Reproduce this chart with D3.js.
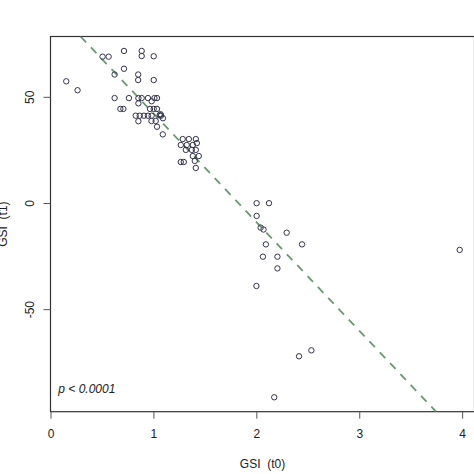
<!DOCTYPE html>
<html>
<head>
<meta charset="utf-8">
<script src="https://cdn.jsdelivr.net/npm/d3@7"></script>
<style>
body { margin:0; background:#fff; }
svg { display:block; font-family:"Liberation Sans", Arial, sans-serif; }
.tick text { fill:#222; font-size:12px; }
.tick line { stroke:#555; }
</style>
</head>
<body>
<svg></svg>
<script>
// GSI at t0 vs GSI at t1, with fitted line
var gsi0=[0.153,0.263,0.506,0.565,0.714,0.886,0.886,1.003,0.714,0.623,0.852,0.852,1.003,
	0.623,0.762,0.854,0.886,0.947,0.983,1.010,1.035,0.854,0.679,0.708,0.967,1.003,1.035,
	0.828,0.867,0.908,0.947,0.983,1.061,1.074,1.070,0.981,1.022,1.093,0.854,1.035,1.091,
	1.285,1.344,1.412,1.266,1.324,1.383,1.422,1.315,1.373,1.412,1.383,1.441,1.402,1.266,1.295,1.412,
	2.003,2.123,2.003,2.042,2.070,2.295,2.093,2.444,2.064,2.205,2.205,2.001,3.976,2.415,2.535,2.174];
var gsi1=[57.3,53.1,68.9,68.9,71.6,71.6,69.2,69.1,63.2,60.5,60.5,57.9,57.9,
	49.4,49.4,49.4,49.4,49.4,47.9,49.4,49.4,46.9,44.3,44.3,44.3,44.3,44.3,
	41.1,41.1,41.1,41.1,41.1,41.4,41.1,41.8,38.6,38.6,39.9,38.5,35.9,32.3,
	30.1,30.1,30.1,27.3,27.3,27.3,28.2,25.0,25.0,25.0,22.1,22.1,19.8,19.3,19.3,16.5,
	-0.1,-0.1,-6.1,-11.6,-12.5,-14.0,-19.5,-19.5,-25.3,-25.3,-30.8,-39.1,-22.1,-72.2,-69.4,-91.5];
var xTicks=[0,1,2,3,4];
var yTicks=[-50,0,50];
var fitIntercept=93.35, fitSlope=-51.16;
var pLabel="p < 0.0001";

var width=474, height=474;
var svg=d3.select("svg").attr("width",width).attr("height",height);

var x=d3.scaleLinear().domain([0,4.12]).range([50.5,474.5]);
var y=d3.scaleLinear().domain([-98.3,78.4]).range([411.7,36.5]);

svg.append("clipPath").attr("id","plotclip").append("rect")
	.attr("x",x.range()[0]).attr("y",y.range()[1])
	.attr("width",x.range()[1]-x.range()[0]).attr("height",y.range()[0]-y.range()[1]);

// frame
svg.append("rect")
	.attr("x",x.range()[0]).attr("y",y.range()[1])
	.attr("width",x.range()[1]-x.range()[0]).attr("height",y.range()[0]-y.range()[1])
	.attr("fill","none").attr("stroke","#333").attr("stroke-width",1.2);

var xAxis=svg.append("g").attr("transform","translate(0,"+y.range()[0]+")")
	.call(d3.axisBottom(x).tickValues(xTicks).tickSize(7).tickFormat(d3.format("d")));
xAxis.select(".domain").remove();
xAxis.selectAll(".tick text").attr("y",26.8).attr("dy",0);

var yAxis=svg.append("g").attr("transform","translate("+x.range()[0]+",0)")
	.call(d3.axisLeft(y).tickValues(yTicks).tickSize(7).tickFormat(function(d){return d<0?"-"+(-d):""+d;}));
yAxis.select(".domain").remove();
yAxis.selectAll(".tick text")
	.attr("transform","rotate(-90)")
	.attr("x",0).attr("y",-17).attr("dy",0)
	.attr("text-anchor","middle");

// regression line
var fitX=[(y.domain()[1]-fitIntercept)/fitSlope,(y.domain()[0]-fitIntercept)/fitSlope];
svg.append("line")
	.attr("clip-path","url(#plotclip)")
	.attr("x1",x(fitX[0])).attr("y1",y(fitIntercept+fitSlope*fitX[0]))
	.attr("x2",x(fitX[1])).attr("y2",y(fitIntercept+fitSlope*fitX[1]))
	.attr("stroke","#6b9872").attr("stroke-width",1.8)
	.attr("stroke-dasharray","8,7");

svg.selectAll(".pt").data(d3.range(gsi0.length)).enter()
	.append("circle").classed("pt",true)
	.attr("cx",function(i){return x(gsi0[i]);})
	.attr("cy",function(i){return y(gsi1[i]);})
	.attr("r",2.7)
	.attr("fill","none").attr("stroke","#34344e").attr("stroke-width",1);

svg.append("text")
	.attr("x",58.3).attr("y",393.3)
	.style("font-size","12px").style("font-style","italic").attr("fill","#222")
	.text(pLabel);

svg.append("text")
	.attr("x",(x.range()[0]+x.range()[1])/2).attr("y",467.5)
	.attr("text-anchor","middle").style("font-size","12px").style("white-space","pre")
	.attr("fill","#222")
	.text("GSI  (t0)");

svg.append("text")
	.attr("transform","translate(7,"+((y.range()[0]+y.range()[1])/2)+") rotate(-90)")
	.attr("text-anchor","middle").style("font-size","12px").style("white-space","pre")
	.attr("fill","#222")
	.text("GSI  (t1)");
</script>
</body>
</html>
